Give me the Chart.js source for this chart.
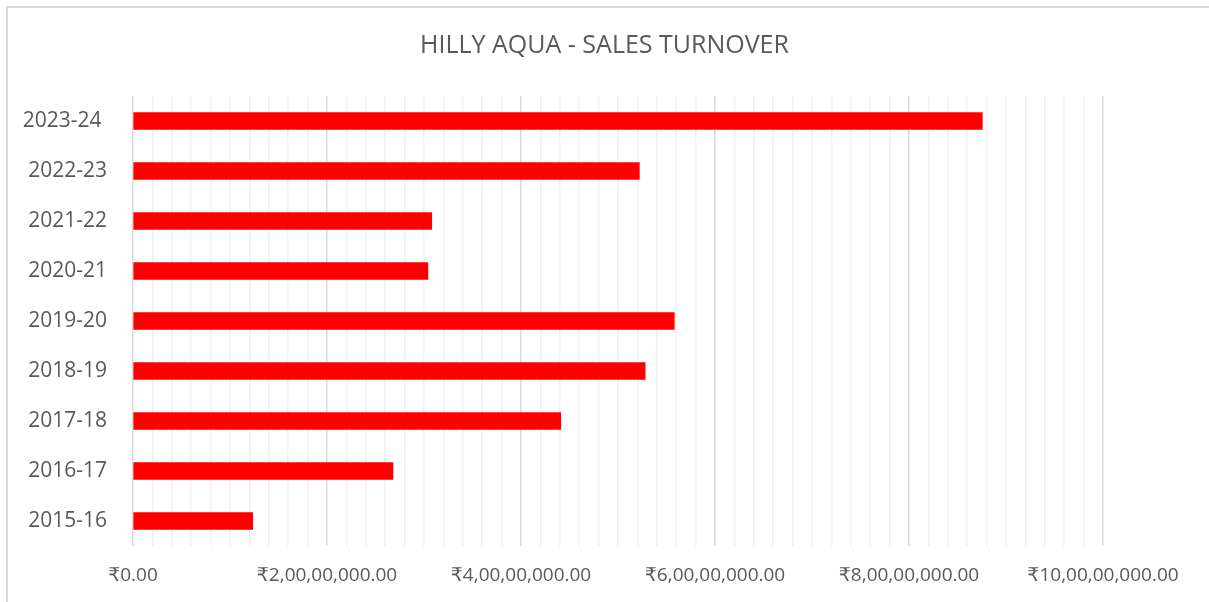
<!DOCTYPE html>
<html>
<head>
<meta charset="utf-8">
<script src="https://cdn.jsdelivr.net/npm/chart.js@4/dist/chart.umd.min.js"></script>
<style>
    html, body { margin: 0; padding: 0; background: #fff; }
    #wrap { position: relative; width: 1209px; height: 602px; }
    #frame { position: absolute; left: 6px; top: 6px; right: -2px; bottom: -2px; border: 2px solid #d9d9d9; }
    canvas { position: absolute; left: 0; top: 0; }
</style>
</head>
<body>
<div id="wrap">
    <div id="frame"></div>
    <canvas id="myChart" width="1209" height="602"></canvas>
</div>
<script>
// Financial years (oldest first) and sales turnover in rupees
const years = ['2015-16', '2016-17', '2017-18', '2018-19', '2019-20', '2020-21', '2021-22', '2022-23', '2023-24 '];
const turnover = [12340000, 26800000, 44100000, 52800000, 55800000, 30400000, 30800000, 52200000, 87560000];

// x axis: minor step 20 lakh, labelled every 2 crore
const xMax = 100000000;
const xMinorStep = 2000000;
const xMajorStep = 20000000;

const textColor = '#595959';
const fontFamily = '"Open Sans", "DejaVu Sans", sans-serif';

// Indian grouping: 2,00,00,000.00
function formatRupee(v) {
    let s = Math.round(v).toString();
    if (s.length > 3) {
        let last3 = s.slice(-3);
        let rest = s.slice(0, -3);
        rest = rest.replace(/\B(?=(\d{2})+(?!\d))/g, ',');
        s = rest + ',' + last3;
    }
    return '₹' + s + '.00';
}

function isMajor(v) {
    return Math.abs(v / xMajorStep - Math.round(v / xMajorStep)) < 1e-6;
}

var ctx = document.getElementById('myChart').getContext('2d');
var myChart = new Chart(ctx, {
    type: 'bar',
    data: {
        labels: years,
        datasets: [{
            label: 'Sales Turnover',
            data: turnover,
            backgroundColor: '#ff0000',
            borderWidth: 0,
            barThickness: 17
        }]
    },
    options: {
        indexAxis: 'y',
        responsive: false,
        animation: false,
        layout: {
            padding: { top: 31, right: 0, bottom: 0, left: 0 }
        },
        plugins: {
            legend: { display: false },
            tooltip: { enabled: false },
            title: {
                display: true,
                text: 'HILLY AQUA - SALES TURNOVER',
                color: textColor,
                font: { family: fontFamily, size: 25, weight: 'normal' },
                padding: { top: 0, bottom: 35 }
            }
        },
        scales: {
            x: {
                min: 0,
                max: xMax,
                border: { display: false },
                grid: {
                    drawTicks: false,
                    lineWidth: 1.5,
                    color: c => isMajor(c.tick.value) ? '#d9d9d9' : '#f0f0f0'
                },
                ticks: {
                    stepSize: xMinorStep,
                    autoSkip: false,
                    maxRotation: 0,
                    padding: 18,
                    color: textColor,
                    font: { family: fontFamily, size: 19 },
                    callback: v => isMajor(v) ? formatRupee(v) : ''
                },
                afterFit: function (scale) {
                    scale.height = 56;
                }
            },
            y: {
                reverse: true,
                border: { display: false },
                grid: { display: false },
                ticks: {
                    padding: 18,
                    color: textColor,
                    font: { family: fontFamily, size: 21 }
                },
                afterFit: function (scale) {
                    scale.width = 133;
                }
            },
            // empty right-hand spacer so the title stays centred on the whole canvas
            yRight: {
                type: 'category',
                position: 'right',
                display: true,
                border: { display: false },
                grid: { display: false },
                ticks: { display: false },
                afterFit: function (scale) {
                    scale.width = 106;
                }
            }
        }
    }
});
</script>
</body>
</html>
